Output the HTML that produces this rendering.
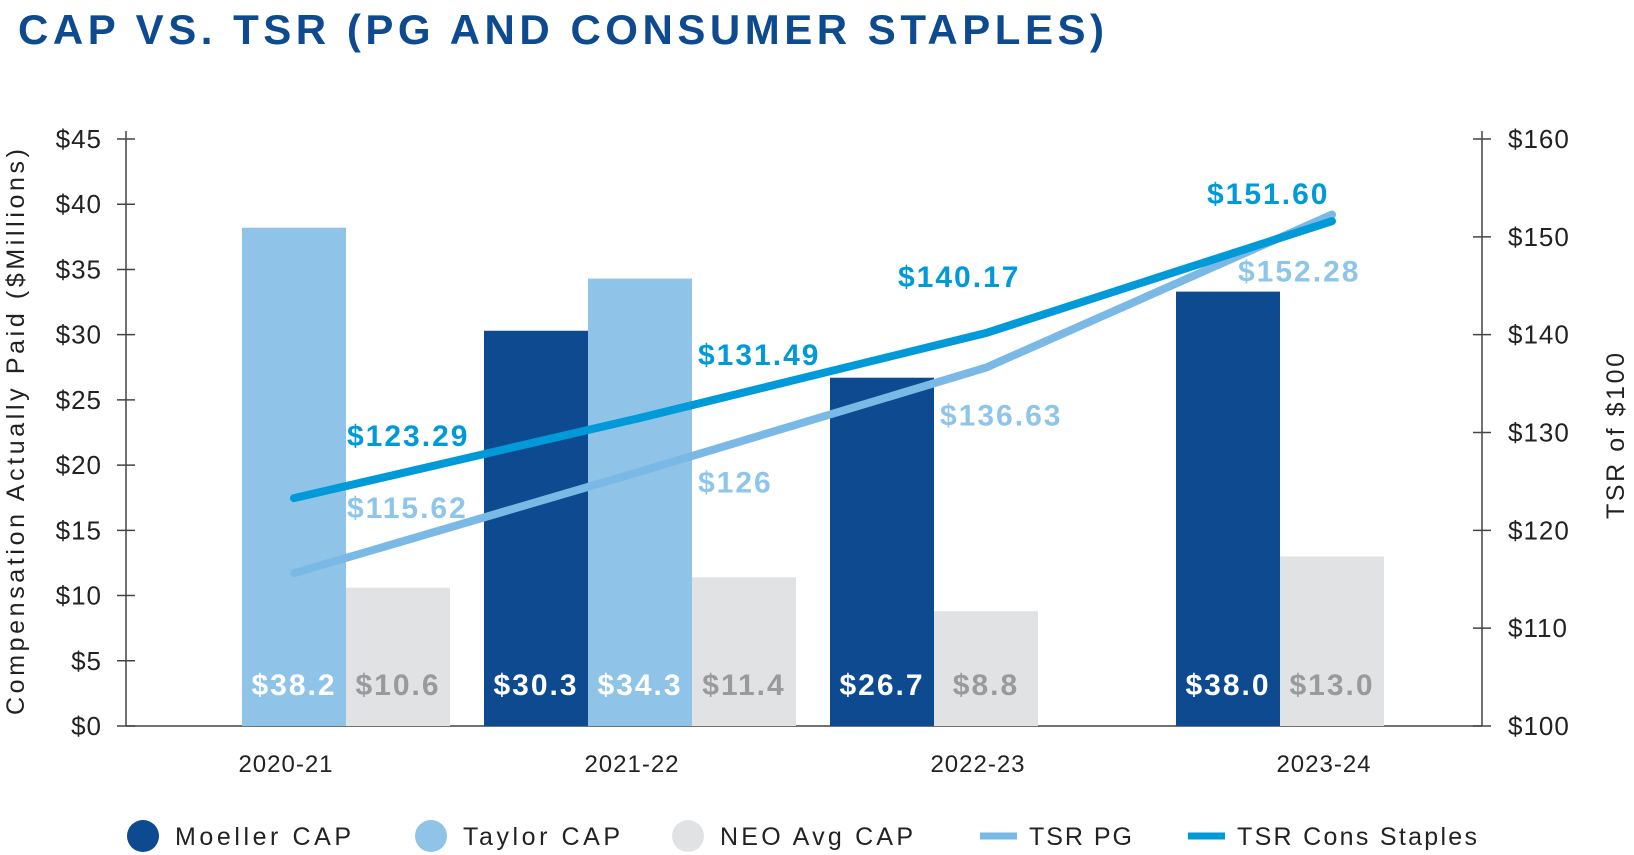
<!DOCTYPE html>
<html><head><meta charset="utf-8"><style>
html,body{margin:0;padding:0;background:#fff;}
svg{display:block;font-family:"Liberation Sans",sans-serif;}
</style></head><body>
<svg id="chart" width="1634" height="855" viewBox="0 0 1634 855">
<text x="18" y="44" font-size="42" font-weight="bold" fill="#0d4a8f" textLength="1086" lengthAdjust="spacing">CAP VS. TSR (PG AND CONSUMER STAPLES)</text>
<g id="axes"></g><g id="bars"></g><g id="lines"></g><g id="labels"></g><g id="legend"></g>
</svg>
<script>
const categories = ["2020-21","2021-22","2022-23","2023-24"];
const moellerCap = [null, 30.3, 26.7, 33.3];
const moellerLabels = ["", "$30.3", "$26.7", "$38.0"];
const taylorCap = [38.2, 34.3, null, null];
const taylorLabels = ["$38.2", "$34.3", "", ""];
const neoCap = [10.6, 11.4, 8.8, 13.0];
const neoLabels = ["$10.6", "$11.4", "$8.8", "$13.0"];
const tsrPG = [115.62, 126, 136.63, 152.28];
const tsrPGLabels = ["$115.62", "$126", "$136.63", "$152.28"];
const tsrCS = [123.29, 131.49, 140.17, 151.60];
const tsrCSLabels = ["$123.29", "$131.49", "$140.17", "$151.60"];
const leftTicks = [0,5,10,15,20,25,30,35,40,45];
const rightTicks = [100,110,120,130,140,150,160];

const NS = "http://www.w3.org/2000/svg";
const X0 = 126, X1 = 1482, Y0 = 726, Y1 = 139;
const yL = v => Y0 - (v/45)*(Y0-Y1);
const yR = v => Y0 - ((v-100)/60)*(Y0-Y1);
const xC = i => 294 + i*346;
const BW = 104;
function mk(tag, attrs, parent, txt){
  const e = document.createElementNS(NS, tag);
  for (const k in attrs) e.setAttribute(k, attrs[k]);
  if (txt !== undefined) e.textContent = txt;
  document.getElementById(parent).appendChild(e);
  return e;
}
let e;
e = mk("line",{x1:X0,y1:Y1-8,x2:X0,y2:Y0,stroke:"#444","stroke-width":1.5},"axes");


e = mk("line",{x1:X1,y1:Y1-8,x2:X1,y2:Y0,stroke:"#444","stroke-width":1.5},"axes");


e = mk("line",{x1:X0,y1:Y0,x2:X1,y2:Y0,stroke:"#444","stroke-width":1.5},"axes");


leftTicks.forEach(t=>{
  e = mk("line",{x1:X0-9,x2:X0+9,y1:yL(t),y2:yL(t),stroke:"#444","stroke-width":1.5},"axes");
  
  
  e = mk("text",{x:102,y:yL(t)+9,"font-size":26,"text-anchor":"end",fill:"#222","letter-spacing":1},"axes","$"+t);
  
  
});
rightTicks.forEach(t=>{
  e = mk("line",{x1:X1-9,x2:X1+9,y1:yR(t),y2:yR(t),stroke:"#444","stroke-width":1.5},"axes");
  
  
  e = mk("text",{x:1508,y:yR(t)+9,"font-size":26,fill:"#222","letter-spacing":1},"axes","$"+t);
  
  
});
e = mk("text",{x:0,y:0,"font-size":25,"text-anchor":"middle",fill:"#222",textLength:566,lengthAdjust:"spacing",transform:"translate(24,432) rotate(-90)"},"axes","Compensation Actually Paid ($Millions)");


e = mk("text",{x:0,y:0,"font-size":25,"text-anchor":"middle",fill:"#222",textLength:166,lengthAdjust:"spacing",transform:"translate(1624,436) rotate(-90)"},"axes","TSR of $100");


categories.forEach((c,i)=>{
  e = mk("text",{x:xC(i)-8,y:772,"font-size":24,"text-anchor":"middle",fill:"#222","letter-spacing":1},"axes",c);
  
  
});
const series = [
 {vals:moellerCap, labs:moellerLabels, color:"#0d4a8f", lc:"#ffffff", slot:-1, name:"moeller-bar"},
 {vals:taylorCap, labs:taylorLabels, color:"#8fc4e8", lc:"#ffffff", slot:0, name:"taylor-bar"},
 {vals:neoCap, labs:neoLabels, color:"#e1e2e3", lc:"#999a9c", slot:1, name:"neo-bar"}
];
categories.forEach((c,i)=>{
  let pos = null;
  series.forEach(s=>{
    const v = s.vals[i];
    if (v === null || v === undefined) return;
    if (pos === null) pos = s.slot;
    const left = xC(i) - BW/2 + pos*BW;
    e = mk("rect",{x:left,y:yL(v),width:BW,height:Y0-yL(v),fill:s.color},"bars");
    
    
    e = mk("text",{x:left+BW/2,y:695,"font-size":30,"font-weight":"bold","text-anchor":"middle",fill:s.lc,"letter-spacing":2},"labels",s.labs[i]);
    
    
    pos++;
  });
});
function line(vals, color, name){
  const d = vals.map((v,i)=>(i?"L":"M")+xC(i)+","+yR(v)).join(" ");
  const p = mk("path",{d:d,fill:"none",stroke:color,"stroke-width":8,"stroke-linecap":"round"},"lines");
  
  
}
line(tsrPG,"#7ab8e6","tsr-pg-line");
line(tsrCS,"#009ad9","tsr-cons-staples-line");
const csOff = [[53,-52],[58,-53],[-88,-46],[-125,-17]];
const pgOff = [[53,-55],[58,21],[-46,58],[-94,67]];
tsrCS.forEach((v,i)=>{
  e = mk("text",{x:xC(i)+csOff[i][0],y:yR(v)+csOff[i][1],"font-size":30,"font-weight":"bold",fill:"#009ad9","letter-spacing":2},"labels",tsrCSLabels[i]);
  
  
});
tsrPG.forEach((v,i)=>{
  e = mk("text",{x:xC(i)+pgOff[i][0],y:yR(v)+pgOff[i][1],"font-size":30,"font-weight":"bold",fill:"#8ec5ea","letter-spacing":2},"labels",tsrPGLabels[i]);
  
  
});
const leg = [
 {t:"Moeller CAP",c:"#0d4a8f",x:143,type:"dot",w:176},
 {t:"Taylor CAP",c:"#8fc4e8",x:431,type:"dot",w:157},
 {t:"NEO Avg CAP",c:"#e1e2e3",x:688,type:"dot",w:193},
 {t:"TSR PG",c:"#7ab8e6",x:980,type:"line",w:103},
 {t:"TSR Cons Staples",c:"#009ad9",x:1188,type:"line",w:240}
];
leg.forEach(l=>{
  const g = mk("g",{},"legend");
  
  
  let m;
  if (l.type==="dot"){ m = document.createElementNS(NS,"circle"); m.setAttribute("cx",l.x); m.setAttribute("cy",836); m.setAttribute("r",16); m.setAttribute("fill",l.c); }
  else { m = document.createElementNS(NS,"line"); m.setAttribute("x1",l.x); m.setAttribute("x2",l.x+37); m.setAttribute("y1",836); m.setAttribute("y2",836); m.setAttribute("stroke",l.c); m.setAttribute("stroke-width",7); }
  g.appendChild(m);
  const t = document.createElementNS(NS,"text");
  t.setAttribute("x", l.type==="dot" ? l.x+32 : l.x+49);
  t.setAttribute("y",845); t.setAttribute("font-size",25); t.setAttribute("fill","#222");
  t.setAttribute("textLength", l.w); t.setAttribute("lengthAdjust","spacing");
  t.textContent = l.t;
  g.appendChild(t);
});
</script>
</body></html>
